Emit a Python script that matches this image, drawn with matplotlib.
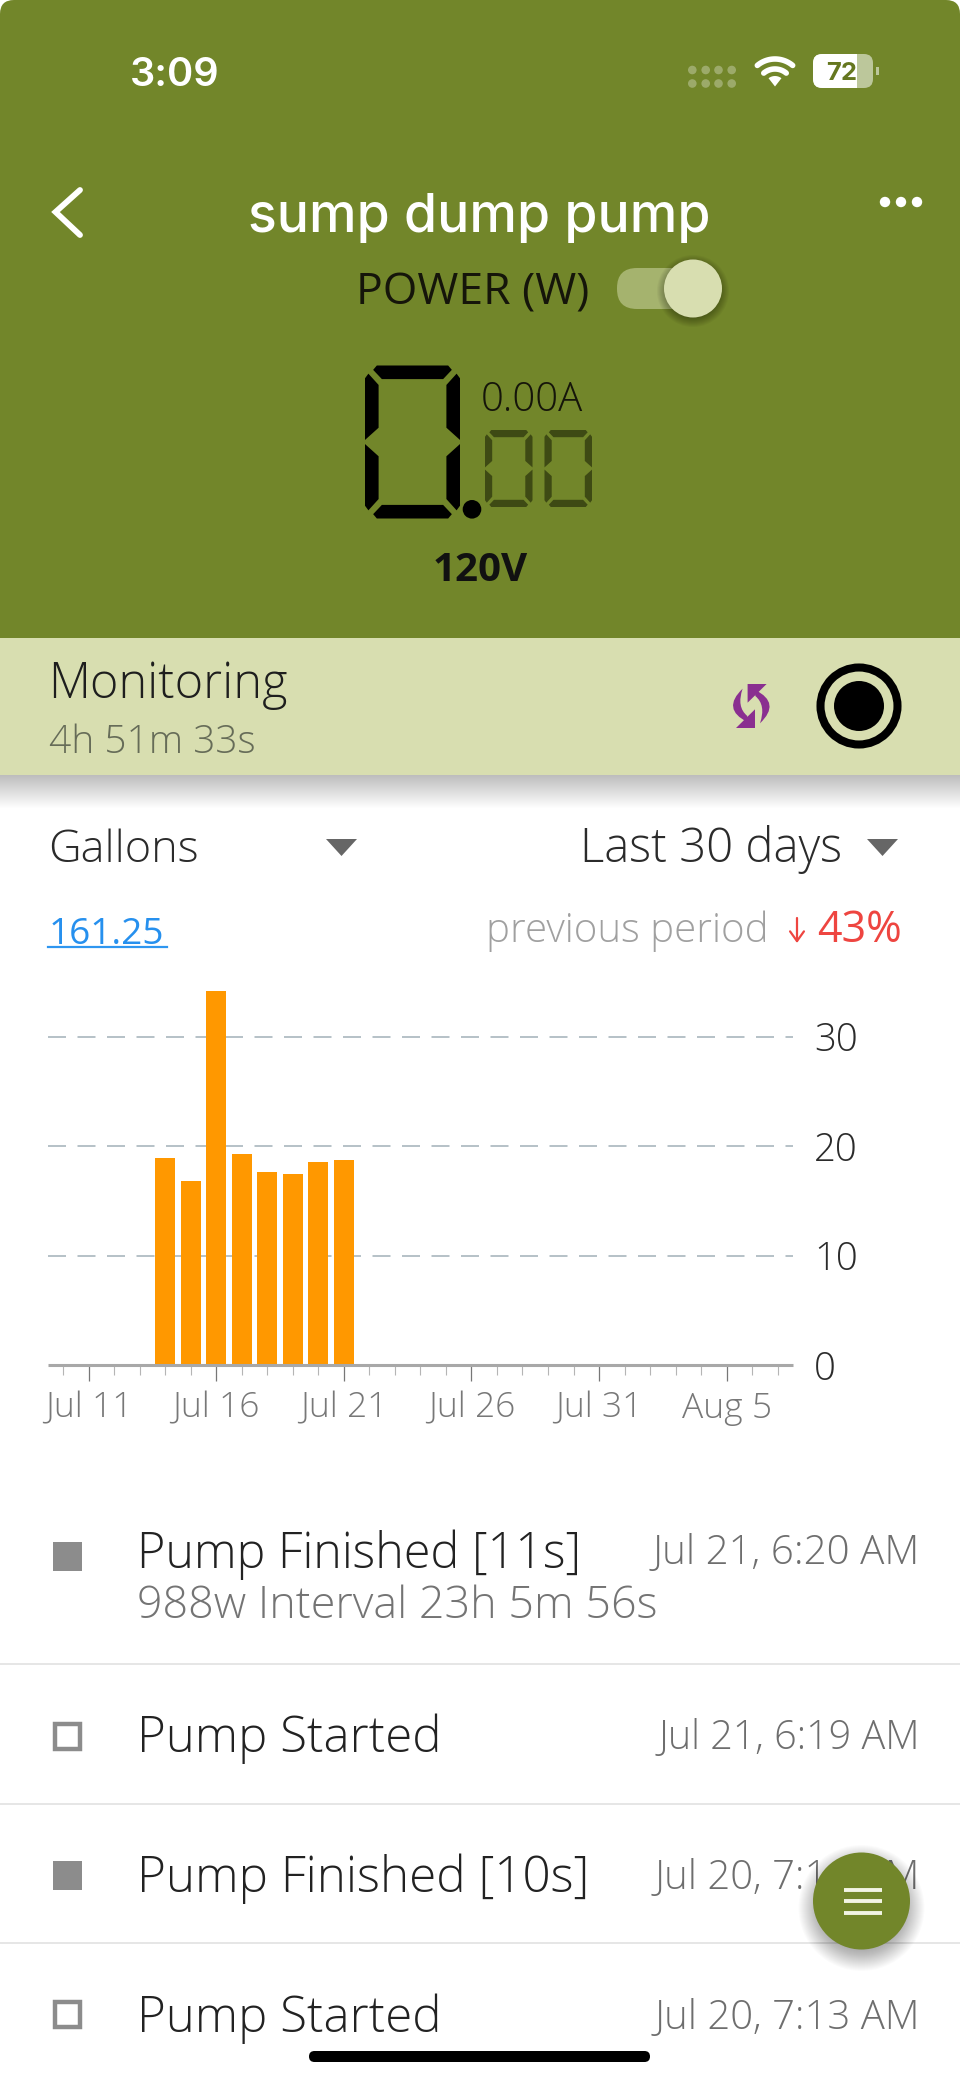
import numpy as np
import matplotlib
matplotlib.use("Agg")
import matplotlib.pyplot as plt
import matplotlib.dates as mdates
from matplotlib.patches import Rectangle, Circle, FancyBboxPatch, Polygon, PathPatch
from matplotlib.path import Path
from datetime import date

# ---- data ----
bar_dates = ["2024-07-14", "2024-07-15", "2024-07-16", "2024-07-17",
             "2024-07-18", "2024-07-19", "2024-07-20", "2024-07-21"]
gallons = [18.9, 16.8, 34.2, 19.25, 17.6, 17.4, 18.5, 18.7]
y_ticks = [0, 10, 20, 30]
major_tick_dates = ["2024-07-11", "2024-07-16", "2024-07-21", "2024-07-26", "2024-07-31", "2024-08-05"]
major_tick_labels = ["Jul 11", "Jul 16", "Jul 21", "Jul 26", "Jul 31", "Aug 5"]
minor_first, minor_last = "2024-07-10", "2024-08-07"

row_titles = ["Pump Finished [11s]", "Pump Started", "Pump Finished [10s]", "Pump Started"]
row_times = ["Jul 21, 6:20 AM", "Jul 21, 6:19 AM", "Jul 20, 7:14 AM", "Jul 20, 7:13 AM"]
row_subtitle = "988w Interval 23h 5m 56s"

GREEN = "#72862A"
PALE = "#D8DEB0"
ORANGE = "#FF9800"
FONT = ["Open Sans", "DejaVu Sans"]

W, H = 960, 2082
fig = plt.figure(figsize=(W / 100, H / 100), dpi=100, facecolor="white")
ui = fig.add_axes([0, 0, 1, 1], zorder=1)
ui.set_xlim(0, W); ui.set_ylim(H, 0); ui.axis("off")
renderer = fig.canvas.get_renderer()


def T(s, x, y, size, color="#333333", ha="left", width=None, family=FONT, weight="light", z=5):
    t = ui.text(x, y, s, fontsize=size, color=color, ha=ha, va="baseline",
                family=family, fontweight=weight, zorder=z)
    if width:
        w = t.get_window_extent(renderer).width
        t.set_fontsize(size * width / w)
    return t


def arc_pts(cx, cy, r, a0, a1, n=40):
    a = np.radians(np.linspace(a0, a1, n))
    return cx + r * np.cos(a), cy - r * np.sin(a)


def shadow(cx, cy, r, spread=14, alpha=0.02, z=3):
    for k in range(spread):
        ui.add_patch(Circle((cx, cy), r + k, fc="black", ec="none", alpha=alpha, zorder=z))


def seven_seg(L, Top, w, h, t, color):
    R, B, M = L + w, Top + h, Top + h / 2
    segs = [
        [(L + .87 * t, Top), (R - .87 * t, Top), (R - .6 * t, Top + .32 * t),
         (R - 1.24 * t, Top + t), (L + 1.24 * t, Top + t), (L + .6 * t, Top + .32 * t)],
        [(L + .87 * t, B), (R - .87 * t, B), (R - .6 * t, B - .32 * t),
         (R - 1.24 * t, B - t), (L + 1.24 * t, B - t), (L + .6 * t, B - .32 * t)],
    ]
    for X, sgn in ((L, 1), (R, -1)):
        segs.append([(X, Top + .94 * t), (X + sgn * .25 * t, Top + .6 * t), (X + sgn * t, Top + 1.43 * t),
                     (X + sgn * t, M - 1.05 * t), (X, M - .15 * t)])
        segs.append([(X, B - .94 * t), (X + sgn * .25 * t, B - .6 * t), (X + sgn * t, B - 1.43 * t),
                     (X + sgn * t, M + 1.05 * t), (X, M + .15 * t)])
    for s in segs:
        ui.add_patch(Polygon(s, closed=True, fc=color, ec="none", zorder=4))


# ---- header ----
ui.add_patch(FancyBboxPatch((0, 0), W, 100, boxstyle="round,pad=0,rounding_size=14", fc=GREEN, ec="none", zorder=1))
ui.add_patch(Rectangle((0, 30), W, 608, fc=GREEN, ec="none", zorder=1))

T("3:09", 129.5, 86, 26, "white", width=90, family=["Inter", "DejaVu Sans"], weight="semibold")
for yy in (70, 83.5):
    for xx in (692.3, 705.7, 718.5, 731.7):
        ui.add_patch(Circle((xx, yy), 4.3, fc="white", ec="none", alpha=0.3, zorder=3))
# wifi
xs, ys = arc_pts(775, 86.5, 10.5, 52, 128, n=12)
ui.add_patch(Polygon(list(zip(xs, ys)) + [(775, 86.5)], fc="white", ec="none", zorder=3))
for r in (17.5, 27.5):
    xs, ys = arc_pts(775, 86.5, r, 50, 130)
    ui.plot(xs, ys, color="white", lw=4, solid_capstyle="round", zorder=3)
# battery
ui.add_patch(FancyBboxPatch((813, 54), 60, 34, boxstyle="round,pad=0,rounding_size=9", fc="#BCC79B", ec="none", zorder=3))
bat = FancyBboxPatch((813, 54), 60, 34, boxstyle="round,pad=0,rounding_size=9", fc="white", ec="none", zorder=3)
ui.add_patch(bat)
bat.set_clip_path(Rectangle((813, 50), 44, 42, transform=ui.transData))
ui.add_patch(Rectangle((876, 67), 3, 8, fc="#BCC79B", ec="none", zorder=3))
T("72", 842, 80.5, 20, "#65771F", ha="center", width=31, family=["Inter", "DejaVu Sans"], weight="bold")

ui.plot([80, 55.5, 80], [190, 212, 235], color="white", lw=4.2, solid_capstyle="round", solid_joinstyle="miter", zorder=3)
for xx in (885, 901, 917):
    ui.add_patch(Circle((xx, 202), 5.2, fc="white", ec="none", zorder=3))
T("sump dump pump", 479.5, 232, 36, "white", ha="center", width=462, family=["Inter", "DejaVu Sans"], weight="medium")
T("POWER (W)", 356.5, 305, 26, "#15150A", width=233, weight="normal")
ui.add_patch(FancyBboxPatch((617, 268), 95, 41, boxstyle="round,pad=0,rounding_size=20", fc="#A5B36E", ec="none", zorder=2))
shadow(693, 291, 27, spread=10, alpha=0.035, z=2)
ui.add_patch(Circle((693, 288.5), 29, fc=PALE, ec="none", zorder=3))

seven_seg(365, 365.5, 95, 153, 13.6, "black")
ui.add_patch(Circle((472, 509.3), 9.3, fc="black", ec="none", zorder=4))
seven_seg(485, 430, 47.5, 77, 7.2, "#3E4A14")
seven_seg(544.5, 430, 47.5, 77, 7.2, "#3E4A14")
T("0.00A", 481, 411, 20, "#15150A", width=102)
T("120V", 433, 581, 22, "#111111", width=95, weight="bold")

# ---- monitoring band ----
for k in range(1, 34):
    ui.add_patch(Rectangle((0, 775), W, k, fc="black", ec="none", alpha=0.0075, zorder=0.5))
ui.add_patch(Rectangle((0, 638), W, 137, fc=PALE, ec="none", zorder=1))
T("Monitoring", 48, 698, 30, "#1E1E1E", width=239)
T("4h 51m 33s", 49, 753, 22, "#666C58", width=207)
# sync icon
PURPLE = "#8A2F90"
sync_cx, sync_cy = 751.3, 706
for sgn in (1, -1):
    head = [(-3.7, -22), (15.3, -22), (-3.7, -3.3)]
    ui.add_patch(Polygon([(sync_cx + sgn * a, sync_cy + sgn * b) for a, b in head], fc=PURPLE, ec="none", zorder=3))
    verts = [(4, -16), (30, -3), (8.7, 17.3), (15, -1), (4, -10), (4, -16)]
    codes = [Path.MOVETO, Path.CURVE3, Path.CURVE3, Path.CURVE3, Path.CURVE3, Path.CLOSEPOLY]
    ui.add_patch(PathPatch(Path([(sync_cx + sgn * a, sync_cy + sgn * b) for a, b in verts], codes),
                           fc=PURPLE, ec="none", zorder=3))
# record icon
ui.add_patch(Circle((859, 706), 38.5, fc="none", ec="black", lw=5.8, zorder=3))
ui.add_patch(Circle((859, 706), 25, fc="black", ec="none", zorder=3))

# ---- selector row ----
T("Gallons", 48, 862.5, 29, "#2B2B2B", width=151)
ui.add_patch(Polygon([(326, 839), (357, 839), (341.5, 856)], fc="#666666", ec="none", zorder=3))
T("Last 30 days", 579.5, 862.5, 29, "#2B2B2B", width=262)
ui.add_patch(Polygon([(867, 839), (898, 839), (882.5, 856)], fc="#666666", ec="none", zorder=3))
T("161.25", 49, 943.5, 24, "#2690EE", width=116, weight="normal")
ui.plot([48, 167], [946.5, 946.5], color="#2E96F0", lw=1.6, zorder=3)
T("previous period", 486, 941.5, 24, "#A0A0A0", width=283)
ui.annotate("", xy=(797, 943), xytext=(797, 918), zorder=5,
            arrowprops=dict(arrowstyle="->,head_width=0.5,head_length=0.7", color="#EE4540", lw=1.6, shrinkA=0, shrinkB=0))
T("43%", 817, 941.5, 24, "#EE4540", width=85, weight="normal")

# ---- chart ----
base, top = 1365, 985
px_per_unit = 10.95
ax = fig.add_axes([47.8 / W, 1 - base / H, (793 - 47.8) / W, (base - top) / H], zorder=2)
ax.patch.set_alpha(0)
d2n = lambda s: mdates.date2num(date.fromisoformat(s))
x_vals = [d2n(s) for s in bar_dates]
ax.bar(x_vals, gallons, width=0.77, color=ORANGE, zorder=3, linewidth=0)
ax.set_xlim(d2n("2024-07-11") - 1.6, d2n("2024-08-05") + 2.6)
ax.set_ylim(0, (base - top) / px_per_unit)
for s in ("top", "left", "right"):
    ax.spines[s].set_visible(False)
ax.spines["bottom"].set_color("#A8A8A8")
ax.spines["bottom"].set_linewidth(2.2)
ax.spines["bottom"].set_capstyle("butt")
ax.spines["bottom"].set_zorder(4)
ax.yaxis.tick_right()
ax.set_yticks(y_ticks)
ax.set_yticklabels([str(v) for v in y_ticks], fontsize=27.5, color="#2B2B2B", family=FONT, fontweight="light")
ax.tick_params(axis="y", length=0, pad=15)
for v in y_ticks[1:]:
    ax.axhline(v, color="#A9B6BD", lw=1.2, dashes=(10.8, 6.9), zorder=1)
ax.set_xticks([d2n(s) for s in major_tick_dates])
ax.set_xticklabels(major_tick_labels, fontsize=25.5, color="#787878", family=FONT, fontweight="light")
ax.set_xticks(np.arange(d2n(minor_first), d2n(minor_last) + 1), minor=True)
ax.tick_params(axis="x", which="major", length=11.5, width=0.9, color="#777777", pad=7.5)
ax.tick_params(axis="x", which="minor", length=7, width=0.8, color="#B5B5B5")

# ---- list ----
baselines = [1567.5, 1752.5, 1892, 2031.5]
time_bl = [1564, 1748.5, 1888.5, 2028.5]
icon_tops = [1542, 1721.5, 1861, 2000]
title_w = [444, 304, 452, 304]
time_w = [267, 262, 265, 265]
for i, (title, when) in enumerate(zip(row_titles, row_times)):
    T(title, 137, baselines[i], 29, "#222222", width=title_w[i])
    T(when, 920, time_bl[i], 22, "#6E6E6E", ha="right", width=time_w[i])
    if i % 2 == 0:
        ui.add_patch(Rectangle((53, icon_tops[i]), 29, 29, fc="#8C8C8C", ec="none", zorder=3))
    else:
        ui.add_patch(Rectangle((55, icon_tops[i] + 2), 25, 25, fc="none", ec="#8C8C8C", lw=3.2, zorder=3))
T(row_subtitle, 137, 1618, 27, "#747474", width=521)
for yy in (1664, 1804, 1943):
    ui.plot([0, W], [yy, yy], color="#E4E4E4", lw=1.3, zorder=2)

# ---- fab + home bar ----
shadow(861.5, 1908, 40, spread=24, alpha=0.015, z=6)
ui.add_patch(Circle((861.5, 1901), 48.5, fc=GREEN, ec="none", zorder=7))
for yy in (1890, 1901, 1912.5):
    ui.plot([844, 882], [yy, yy], color="#F2F4E4", lw=2.8, solid_capstyle="butt", zorder=8)
ui.add_patch(FancyBboxPatch((309, 2051), 341, 11, boxstyle="round,pad=0,rounding_size=5.5", fc="black", ec="none", zorder=8))

fig.savefig("out.png", dpi=100, facecolor="white")
